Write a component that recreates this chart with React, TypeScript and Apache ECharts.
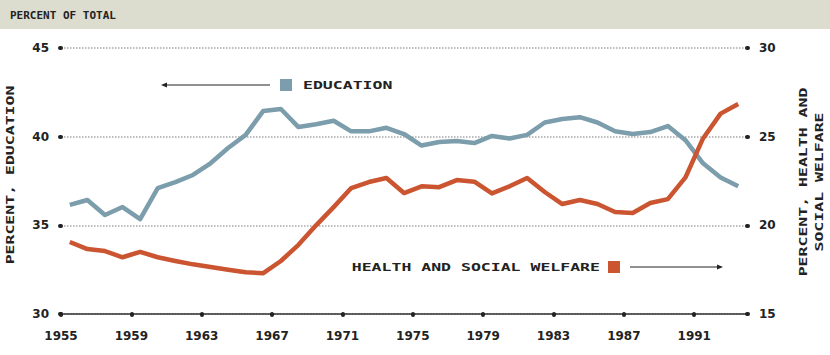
import React, { useEffect, useRef } from "react";
import * as echarts from "echarts";

const startYear = 1955;
const years: number[] = [
  1955, 1956, 1957, 1958, 1959, 1960, 1961, 1962, 1963, 1964, 1965, 1966, 1967,
  1968, 1969, 1970, 1971, 1972, 1973, 1974, 1975, 1976, 1977, 1978, 1979, 1980,
  1981, 1982, 1983, 1984, 1985, 1986, 1987, 1988, 1989, 1990, 1991, 1992, 1993,
];
const education: number[] = [
  36.15, 36.43, 35.58, 36.03, 35.35, 37.1, 37.44, 37.84, 38.5, 39.36, 40.1,
  41.45, 41.56, 40.54, 40.7, 40.9, 40.3, 40.3, 40.5, 40.15, 39.5, 39.7, 39.75,
  39.64, 40.04, 39.9, 40.1, 40.8, 41.0, 41.1, 40.8, 40.3, 40.15, 40.26, 40.6,
  39.8, 38.5, 37.7, 37.2,
];
const healthWelfare: number[] = [
  19.06, 18.66, 18.55, 18.2, 18.5, 18.2, 17.99, 17.8, 17.65, 17.5, 17.36, 17.3,
  17.99, 18.9, 20.0, 21.03, 22.1, 22.44, 22.67, 21.82, 22.2, 22.15, 22.55,
  22.46, 21.8, 22.2, 22.67, 21.88, 21.2, 21.43, 21.2, 20.75, 20.7, 21.26, 21.48,
  22.7, 24.9, 26.3, 26.84,
];
const leftTicks = { min: 30, max: 45, interval: 5 };
const rightTicks = { min: 15, max: 30, interval: 5 };
const xTicks = { min: 0, max: 39, interval: 4 };

const BLUE = "#7c9dab";
const RED = "#cb5530";
const INK = "#222";
const FONT = "'DejaVu Sans Mono', monospace";
const WIDE = 1.5;

export default function App() {
  const ref = useRef<HTMLDivElement>(null);
  useEffect(() => {
    if (!ref.current) return;
    const chart = echarts.init(ref.current, undefined, { renderer: "svg" });
    const eduData = years.map((y, i) => [y - startYear + 0.5, education[i]]);
    const hwData = years.map((y, i) => [y - startYear + 0.5, healthWelfare[i]]);
    const tick = {
      show: true,
      length: 1,
      lineStyle: { color: INK, width: 4, cap: "round" },
    };
    const labelStyle = {
      color: INK,
      fontFamily: "'DejaVu Sans', sans-serif",
      fontWeight: "bold",
      fontSize: 12,
    };
    chart.setOption({
      animation: false,
      backgroundColor: "#fff",
      grid: { left: 61, right: 83, top: 48, bottom: 41 },
      xAxis: {
        type: "value",
        min: xTicks.min,
        max: xTicks.max,
        interval: xTicks.interval,
        axisLine: { show: true, lineStyle: { color: "#333", width: 1.5 } },
        axisTick: tick,
        splitLine: { show: false },
        axisLabel: {
          ...labelStyle,
          margin: 16,
          showMaxLabel: false,
          formatter: (v: number) =>
            v % 4 === 0 && v < xTicks.max ? String(startYear + v) : "",
        },
      },
      yAxis: [
        {
          type: "value",
          min: leftTicks.min,
          max: leftTicks.max,
          interval: leftTicks.interval,
          axisLine: { show: false },
          axisTick: tick,
          splitLine: {
            show: true,
            lineStyle: { color: "#a8a8a8", type: "dotted", width: 1.5 },
          },
          axisLabel: { ...labelStyle, margin: 12 },
        },
        {
          type: "value",
          min: rightTicks.min,
          max: rightTicks.max,
          interval: rightTicks.interval,
          position: "right",
          axisLine: { show: false },
          axisTick: tick,
          splitLine: { show: false },
          axisLabel: { ...labelStyle, margin: 12 },
        },
      ],
      series: [
        {
          name: "Education",
          type: "line",
          yAxisIndex: 0,
          data: eduData,
          showSymbol: false,
          lineStyle: { color: BLUE, width: 4.5, join: "round" },
          z: 3,
        },
        {
          name: "Health and social welfare",
          type: "line",
          yAxisIndex: 1,
          data: hwData,
          showSymbol: false,
          lineStyle: { color: RED, width: 4.5, join: "round" },
          z: 4,
        },
      ],
      graphic: [
        {
          type: "rect",
          shape: { x: 0, y: 0, width: 830, height: 29 },
          style: { fill: "#dcdccf" },
          z: 0,
        },
        {
          type: "text",
          x: 10,
          y: 15,
          style: {
            text: "PERCENT OF TOTAL",
            fill: INK,
            font: `bold 11px ${FONT}`,
            verticalAlign: "middle",
          },
        },
        {
          type: "text",
          x: 10,
          y: 175,
          rotation: Math.PI / 2,
          scaleX: WIDE,
          style: {
            text: "PERCENT, EDUCATION",
            fill: INK,
            font: `bold 11px ${FONT}`,
            align: "center",
            verticalAlign: "middle",
          },
        },
        {
          type: "text",
          x: 811,
          y: 182,
          rotation: Math.PI / 2,
          scaleX: WIDE,
          style: {
            text: "PERCENT, HEALTH AND\nSOCIAL WELFARE",
            fill: INK,
            font: `bold 11px ${FONT}`,
            align: "center",
            verticalAlign: "middle",
            lineHeight: 16,
          },
        },
        {
          type: "rect",
          shape: { x: 280, y: 79, width: 12, height: 12 },
          style: { fill: BLUE },
        },
        {
          type: "text",
          x: 303,
          y: 85,
          scaleX: WIDE,
          style: {
            text: "EDUCATION",
            fill: INK,
            font: `bold 11px ${FONT}`,
            verticalAlign: "middle",
          },
        },
        {
          type: "line",
          shape: { x1: 270, y1: 85, x2: 164, y2: 85 },
          style: { stroke: INK, lineWidth: 1 },
        },
        {
          type: "polygon",
          shape: { points: [[161, 85], [167, 82.5], [167, 87.5]] },
          style: { fill: INK },
        },
        {
          type: "rect",
          shape: { x: 608, y: 261, width: 12, height: 12 },
          style: { fill: RED },
        },
        {
          type: "text",
          x: 600,
          y: 267,
          scaleX: WIDE,
          style: {
            text: "HEALTH AND SOCIAL WELFARE",
            fill: INK,
            font: `bold 11px ${FONT}`,
            align: "right",
            verticalAlign: "middle",
          },
        },
        {
          type: "line",
          shape: { x1: 630, y1: 267, x2: 720, y2: 267 },
          style: { stroke: INK, lineWidth: 1 },
        },
        {
          type: "polygon",
          shape: { points: [[723, 267], [717, 264.5], [717, 269.5]] },
          style: { fill: INK },
        },
      ],
    });
    return () => chart.dispose();
  }, []);
  return (
    <div
      ref={ref}
      style={{ position: "fixed", left: 0, top: 0, width: 830, height: 355 }}
    />
  );
}
